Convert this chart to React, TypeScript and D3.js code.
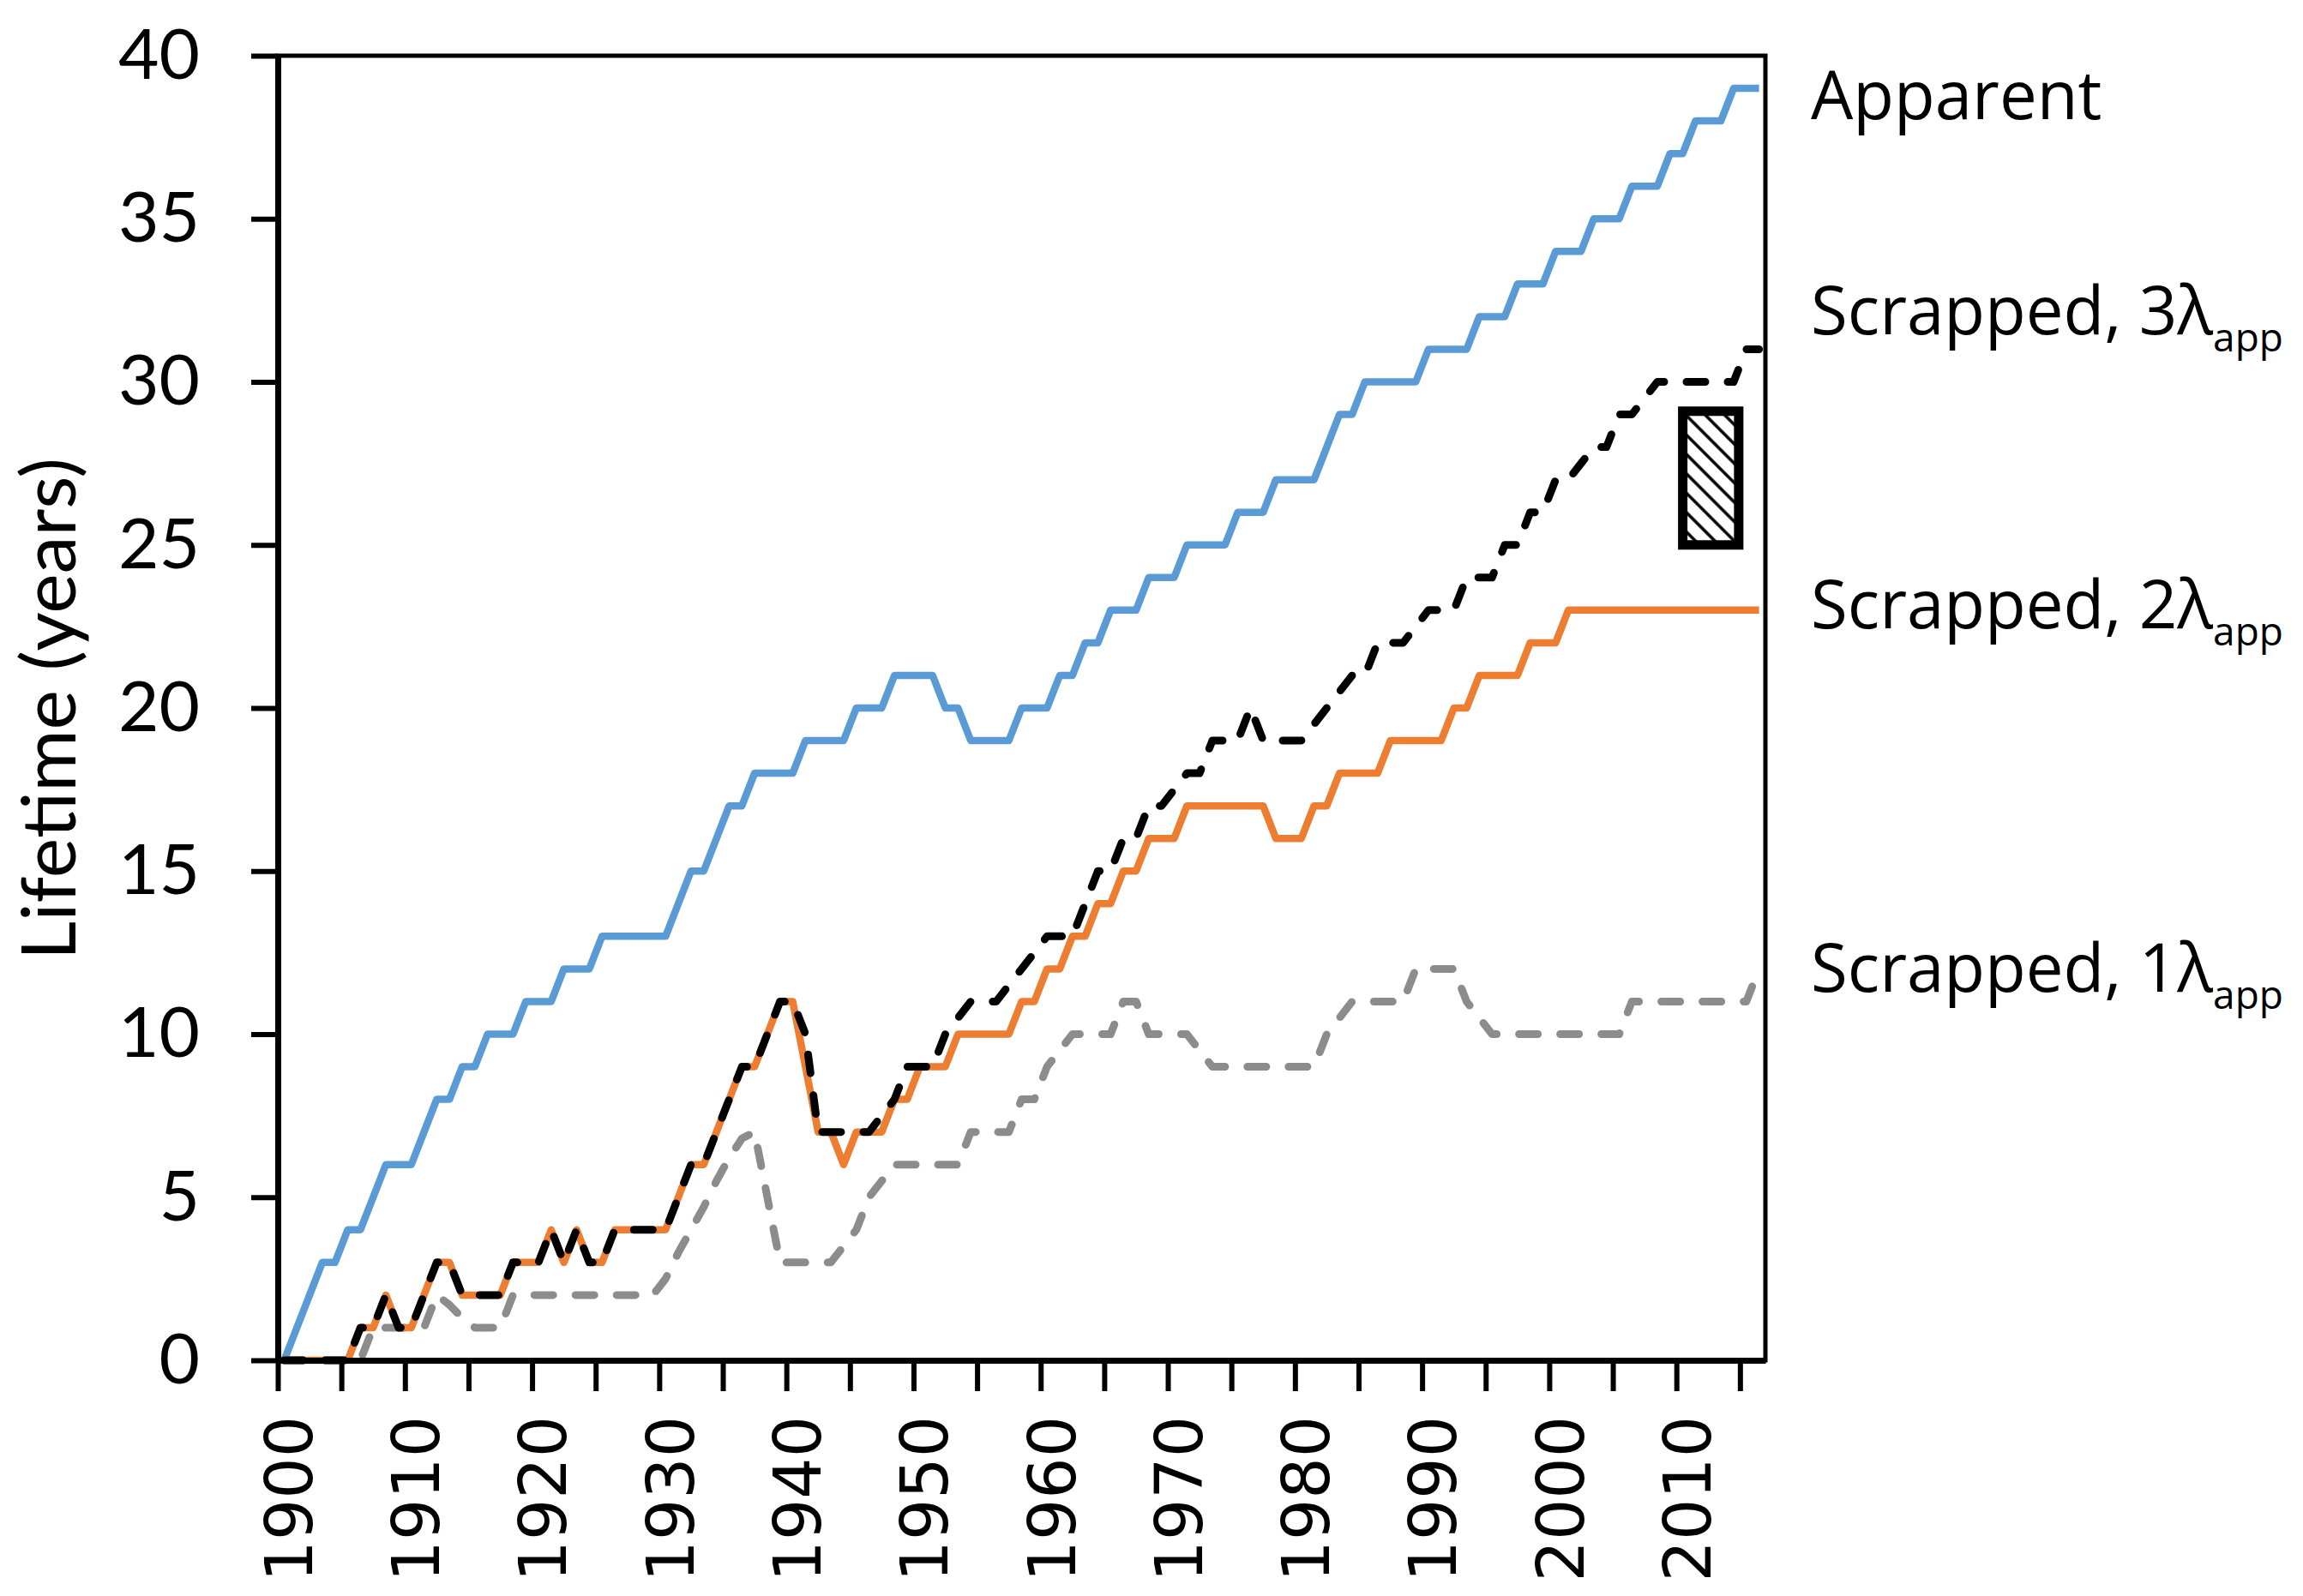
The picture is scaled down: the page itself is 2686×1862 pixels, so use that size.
import { useEffect, useRef } from "react";
import * as d3 from "d3";

// Tamanho da figura original
const WIDTH = 2686;
const HEIGHT = 1862;

// Categorias (um ponto por ano, 1900–2016)
const YEARS = d3.range(1900, 2017);

// Séries (anos de vida)
const APPARENT = [
  0, 1, 2, 3, 3, 4, 4, 5, 6, 6, 6, 7, 8, 8, 9, 9, 10, 10, 10, 11,
  11, 11, 12, 12, 12, 13, 13, 13, 13, 13, 13, 14, 15, 15, 16, 17, 17, 18, 18, 18,
  18, 19, 19, 19, 19, 20, 20, 20, 21, 21, 21, 21, 20, 20, 19, 19, 19, 19, 20, 20,
  20, 21, 21, 22, 22, 23, 23, 23, 24, 24, 24, 25, 25, 25, 25, 26, 26, 26, 27, 27,
  27, 27, 28, 29, 29, 30, 30, 30, 30, 30, 31, 31, 31, 31, 32, 32, 32, 33, 33, 33,
  34, 34, 34, 35, 35, 35, 36, 36, 36, 37, 37, 38, 38, 38, 39, 39, 39
];

const SCRAPPED_1 = [
  0, 0, 0, 0, 0, 0, 0, 1, 1, 1, 1, 1, 2, 1.7, 1.3, 1, 1, 1, 2, 2,
  2, 2, 2, 2, 2, 2, 2, 2, 2, 2, 2.5, 3.3, 4, 4.7, 5.5, 6.2, 6.8, 7, 5, 3,
  3, 3, 3, 3, 3.5, 4, 5, 5.5, 6, 6, 6, 6, 6, 6, 7, 7, 7, 7, 8, 8,
  9, 9.5, 10, 10, 10, 10, 11, 11, 10, 10, 10, 10, 9.5, 9, 9, 9, 9, 9, 9, 9,
  9, 9, 10, 10.5, 11, 11, 11, 11, 11, 12, 12, 12, 12, 11, 10.5, 10, 10, 10, 10, 10,
  10, 10, 10, 10, 10, 10, 11, 11, 11, 11, 11, 11, 11, 11, 11, 11, 12
];

const SCRAPPED_2 = [
  0, 0, 0, 0, 0, 0, 1, 1, 2, 1, 1, 2, 3, 3, 2, 2, 2, 2, 3, 3,
  3, 4, 3, 4, 3, 3, 4, 4, 4, 4, 4, 5, 6, 6, 7, 8, 9, 9, 10, 11,
  11, 9, 7, 7, 6, 7, 7, 7, 8, 8, 9, 9, 9, 10, 10, 10, 10, 10, 11, 11,
  12, 12, 13, 13, 14, 14, 15, 15, 16, 16, 16, 17, 17, 17, 17, 17, 17, 17, 16, 16,
  16, 17, 17, 18, 18, 18, 18, 19, 19, 19, 19, 19, 20, 20, 21, 21, 21, 21, 22, 22,
  22, 23, 23, 23, 23, 23, 23, 23, 23, 23, 23, 23, 23, 23, 23, 23, 23
];

const SCRAPPED_3 = [
  0, 0, 0, 0, 0, 0, 1, 1, 2, 1, 1, 2, 3, 3, 2, 2, 2, 2, 3, 3,
  3, 4, 3, 4, 3, 3, 4, 4, 4, 4, 4, 5, 6, 6, 7, 8, 9, 9, 10, 11,
  11, 10, 7, 7, 7, 7, 7, 7.5, 8, 9, 9, 9, 10, 10.5, 11, 11, 11, 11.5, 12, 12.5,
  13, 13, 13, 14, 15, 15, 16, 16, 17, 17, 17.5, 18, 18, 19, 19, 19, 20, 19, 19, 19,
  19, 19.5, 20, 20.5, 21, 21, 22, 22, 22, 22.5, 23, 23, 23, 24, 24, 24, 25, 25, 26, 26,
  27, 27, 27.5, 28, 28, 29, 29, 29.5, 30, 30, 30, 30, 30, 30, 30, 31, 31
];

// Eixos
const Y_TICKS = [0, 5, 10, 15, 20, 25, 30, 35, 40];
const X_TICK_MARKS = [
  1900, 1905, 1910, 1915, 1920, 1925, 1930, 1935, 1940, 1945, 1950, 1955,
  1960, 1965, 1970, 1975, 1980, 1985, 1990, 1995, 2000, 2005, 2010, 2015
];
const X_TICK_LABELS = [1900, 1910, 1920, 1930, 1940, 1950, 1960, 1970, 1980, 1990, 2000, 2010];

// Rótulos à direita (valor da linha de base de cada texto)
const LABEL_NAMES = ["Apparent", "Scrapped, 3λ", "Scrapped, 2λ", "Scrapped, 1λ"];
const LABEL_SUBS = ["", "app", "app", "app"];
const LABEL_VALUES = [38.05, 31.46, 22.45, 11.29];

// Caixa hachurada (faixa de anos e de vida útil)
const BOX_YEARS = [2010, 2014.4];
const BOX_LIFETIME = [25, 29.1];

const SERIES = [
  { key: "apparent", values: APPARENT, color: "#5B9BD5", dash: null, width: 8.5 },
  { key: "s1", values: SCRAPPED_1, color: "#8C8C8C", dash: "22 26", width: 9 },
  { key: "s2", values: SCRAPPED_2, color: "#ED7D31", dash: null, width: 8.5 },
  { key: "s3", values: SCRAPPED_3, color: "#000000", dash: "22 26", width: 9 }
];

const App = () => {
  const svgRef = useRef<SVGSVGElement>(null);

  useEffect(() => {
    if (!svgRef.current) return;
    const svg = d3.select(svgRef.current);
    svg.selectAll("*").remove();

    const left = 324;
    const right = 2059;
    const top = 65;
    const bottom = 1587;

    const x = d3.scaleLinear().domain([1900, 2017]).range([left, right]);
    const y = d3.scaleLinear().domain([0, 40]).range([bottom, top]);
    const xc = (year: number) => x(year + 0.5);

    svg.append("rect").attr("width", WIDTH).attr("height", HEIGHT).attr("fill", "#fff");

    // Padrão hachurado
    const defs = svg.append("defs");
    const pattern = defs
      .append("pattern")
      .attr("id", "hatch")
      .attr("patternUnits", "userSpaceOnUse")
      .attr("width", 16)
      .attr("height", 16)
      .attr("patternTransform", "rotate(-45)");
    pattern.append("rect").attr("width", 16).attr("height", 16).attr("fill", "#fff");
    pattern
      .append("line")
      .attr("x1", 8)
      .attr("x2", 8)
      .attr("y1", 0)
      .attr("y2", 16)
      .attr("stroke", "#000")
      .attr("stroke-width", 3.5);

    // Moldura do gráfico
    svg
      .append("rect")
      .attr("x", left)
      .attr("y", top)
      .attr("width", right - left)
      .attr("height", bottom - top)
      .attr("fill", "none")
      .attr("stroke", "#000")
      .attr("stroke-width", 5);

    // Linhas
    const lineGen = d3
      .line<number>()
      .x((_, i) => xc(YEARS[i]))
      .y((d) => y(d));

    SERIES.forEach((s) => {
      const path = svg
        .append("path")
        .datum(s.values)
        .attr("fill", "none")
        .attr("stroke", s.color)
        .attr("stroke-width", s.width)
        .attr("stroke-linejoin", "round")
        .attr("d", lineGen);
      if (s.dash) {
        path.attr("stroke-dasharray", s.dash).attr("stroke-linecap", "round");
      }
    });

    // Caixa hachurada
    svg
      .append("rect")
      .attr("x", xc(BOX_YEARS[0]))
      .attr("y", y(BOX_LIFETIME[1]))
      .attr("width", xc(BOX_YEARS[1]) - xc(BOX_YEARS[0]))
      .attr("height", y(BOX_LIFETIME[0]) - y(BOX_LIFETIME[1]))
      .attr("fill", "url(#hatch)")
      .attr("stroke", "#000")
      .attr("stroke-width", 11);

    // Eixo Y
    const yAxis = svg
      .append("g")
      .attr("transform", `translate(${left},0)`)
      .call(
        d3.axisLeft(y).tickValues(Y_TICKS).tickSize(31).tickSizeOuter(0).tickPadding(60)
      );
    yAxis.select(".domain").attr("stroke-width", 7);
    yAxis.selectAll(".tick line").attr("stroke-width", 6);
    yAxis
      .selectAll("text")
      .attr("font-family", "Lato, sans-serif")
      .attr("font-size", 82)
      .attr("fill", "#000");

    // Eixo X
    const xAxis = svg
      .append("g")
      .attr("transform", `translate(0,${bottom})`)
      .call(
        d3
          .axisBottom(x)
          .tickValues(X_TICK_MARKS)
          .tickSize(36)
          .tickSizeOuter(0)
          .tickFormat(() => "")
      );
    xAxis.select(".domain").attr("stroke-width", 7);
    xAxis.selectAll(".tick line").attr("stroke-width", 6);

    svg
      .append("g")
      .selectAll("text")
      .data(X_TICK_LABELS)
      .enter()
      .append("text")
      .attr("transform", (d) => `translate(${xc(d) + 5},${bottom + 65}) rotate(-90)`)
      .attr("text-anchor", "end")
      .attr("dy", "0.36em")
      .attr("font-family", "'DejaVu Sans', sans-serif")
      .attr("font-size", 76)
      .text((d) => String(d));

    // Título do eixo Y
    svg
      .append("text")
      .attr("transform", `translate(88,827) rotate(-90)`)
      .attr("text-anchor", "middle")
      .attr("font-family", "Lato, sans-serif")
      .attr("font-size", 88)
      .text("Lifetime (years)");

    // Rótulos das séries
    LABEL_NAMES.forEach((name, i) => {
      const t = svg
        .append("text")
        .attr("x", right + 53)
        .attr("y", y(LABEL_VALUES[i]))
        .attr("font-family", "'Open Sans', sans-serif")
        .attr("font-size", 78)
        .attr("fill", "#000");
      t.append("tspan").text(name);
      if (LABEL_SUBS[i]) {
        t.append("tspan").attr("font-size", 46).attr("dy", 20).text(LABEL_SUBS[i]);
      }
    });
  }, []);

  return (
    <>
      <style>{"body{margin:0}"}</style>
      <svg ref={svgRef} width={WIDTH} height={HEIGHT} style={{ display: "block" }} />
    </>
  );
};

export default App;
